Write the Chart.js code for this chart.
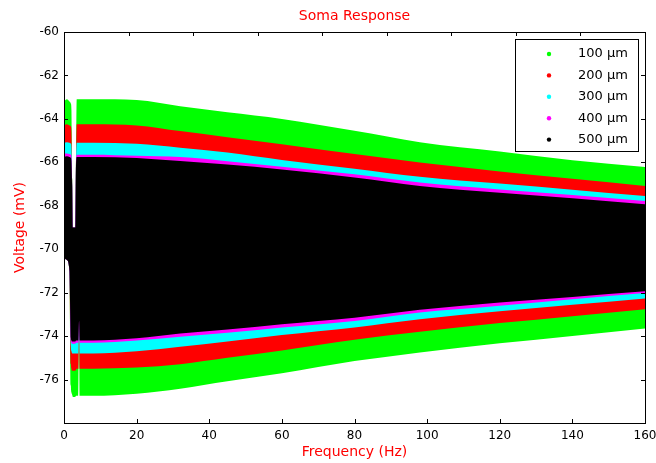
<!DOCTYPE html>
<html>
<head>
<meta charset="utf-8">
<title>Soma Response</title>
<script src="https://cdn.jsdelivr.net/npm/chart.js@4.4.0/dist/chart.umd.min.js"></script>
<style>
  html, body { margin: 0; padding: 0; background: #fff; }
  #wrap { width: 656px; height: 463px; }
</style>
</head>
<body>
<div id="wrap"><canvas id="soma" width="656" height="463"></canvas></div>
<script>
// Envelope of each response band (max / min voltage, mV)
const freqs = [0, 0.8, 1.5, 1.9, 2.05, 2.25, 2.45, 3.1, 3.3, 3.5, 4.0, 4.15, 4.3, 8, 20, 32, 45, 60, 80, 98, 120, 140, 160];

const upper100 = [-63.2, -63.1, -63.2, -63.3, -63.6, -66.8, -69.0, -69.0, -65.8, -63.1, -63.1, -63.1, -63.1, -63.1, -63.13, -63.42, -63.7, -64.0, -64.55, -65.07, -65.5, -65.9, -66.22];
const lower100 = [-70.4, -70.5, -71.0, -76.3, -76.6, -76.7, -76.8, -76.8, -76.75, -76.75, -76.75, -73.3, -76.75, -76.75, -76.65, -76.42, -76.08, -75.71, -75.15, -74.75, -74.33, -73.99, -73.65];

const upper200 = [-64.3, -64.25, -64.3, -64.35, -64.6, -66.8, -69.0, -69.0, -65.9, -64.25, -64.25, -64.25, -64.25, -64.25, -64.3, -64.56, -64.84, -65.17, -65.62, -66.01, -66.42, -66.76, -67.09];
const lower200 = [-70.4, -70.5, -71.0, -75.3, -75.5, -75.6, -75.6, -75.6, -75.55, -75.5, -75.5, -73.3, -75.5, -75.5, -75.45, -75.29, -75.0, -74.66, -74.17, -73.8, -73.4, -73.08, -72.76];

const upper300 = [-65.1, -65.07, -65.1, -65.15, -65.3, -66.9, -69.0, -69.0, -66.0, -65.1, -65.1, -65.1, -65.1, -65.1, -65.15, -65.33, -65.55, -65.89, -66.29, -66.66, -66.98, -67.26, -67.55];
const lower300 = [-70.4, -70.5, -71.0, -74.5, -74.7, -74.8, -74.8, -74.8, -74.8, -74.8, -74.8, -73.3, -74.8, -74.8, -74.7, -74.49, -74.25, -73.95, -73.6, -73.22, -72.86, -72.56, -72.27];

const upper400 = [-65.6, -65.59, -65.62, -65.65, -65.8, -67.0, -69.0, -69.0, -66.1, -65.65, -65.65, -65.65, -65.65, -65.65, -65.7, -65.76, -65.95, -66.2, -66.55, -66.93, -67.25, -67.5, -67.78];
const lower400 = [-70.4, -70.5, -71.0, -74.2, -74.3, -74.35, -74.35, -74.35, -74.3, -74.3, -74.3, -73.3, -74.3, -74.3, -74.2, -74.03, -73.85, -73.6, -73.3, -72.91, -72.6, -72.3, -72.02];

const upper500 = [-65.75, -65.72, -65.75, -65.8, -65.95, -67.1, -69.0, -69.0, -66.2, -65.75, -65.75, -65.75, -65.75, -65.75, -65.8, -65.94, -66.1, -66.33, -66.7, -67.09, -67.4, -67.65, -67.93];
const lower500 = [-70.4, -70.5, -71.0, -74.1, -74.2, -74.25, -74.25, -74.25, -74.2, -74.2, -74.2, -73.3, -74.2, -74.2, -74.1, -73.88, -73.7, -73.45, -73.15, -72.79, -72.45, -72.2, -71.94];

const seriesNames = ['100 \u00b5m', '200 \u00b5m', '300 \u00b5m', '400 \u00b5m', '500 \u00b5m'];
const seriesColors = ['#00ff00', '#ff0000', '#00ffff', '#ff00ff', '#000000'];
const uppers = [upper100, upper200, upper300, upper400, upper500];
const lowers = [lower100, lower200, lower300, lower400, lower500];

// Axis ticks
const xTicks = [0, 20, 40, 60, 80, 100, 120, 140, 160];
const yTicks = [-60, -62, -64, -66, -68, -70, -72, -74, -76, -78];
const yTickLabels = [-60, -62, -64, -66, -68, -70, -72, -74, -76];
const topTickDivisions = 9; // the top edge has its own 9 evenly spaced ticks

const FONT = 'DejaVu Sans';
const TICK = 4;

const toPoints = (ys) => ys.map((v, i) => ({ x: freqs[i], y: v }));

// 500 um goes first so it is drawn last (on top); each band = upper line filled down to its lower line
const datasets = [];
for (let s = seriesNames.length - 1; s >= 0; s--) {
  datasets.push({
    label: seriesNames[s],
    data: toPoints(uppers[s]),
    borderWidth: 0,
    backgroundColor: seriesColors[s],
    pointRadius: 0,
    cubicInterpolationMode: 'monotone',
    fill: '+1'
  });
  datasets.push({
    label: seriesNames[s] + ' min',
    data: toPoints(lowers[s]),
    borderWidth: 0,
    backgroundColor: seriesColors[s],
    pointRadius: 0,
    cubicInterpolationMode: 'monotone',
    fill: false
  });
}

// box, inward ticks and the in-plot legend
const framePlugin = {
  id: 'frame',
  afterDraw(chart) {
    const { ctx, chartArea: a, scales: { x, y } } = chart;
    ctx.save();
    ctx.strokeStyle = '#000';
    ctx.lineWidth = 1;
    ctx.strokeRect(Math.round(a.left) + 0.5, Math.round(a.top) + 0.5,
      Math.round(a.right - a.left), Math.round(a.bottom - a.top));

    ctx.beginPath();
    xTicks.forEach(v => {
      const px = Math.round(x.getPixelForValue(v)) + 0.5;
      ctx.moveTo(px, a.bottom);
      ctx.lineTo(px, a.bottom - TICK);
    });
    for (let k = 1; k < topTickDivisions; k++) {
      const px = Math.round(x.getPixelForValue(x.min + (x.max - x.min) * k / topTickDivisions)) + 0.5;
      ctx.moveTo(px, a.top);
      ctx.lineTo(px, a.top + TICK);
    }
    yTicks.forEach(v => {
      const py = Math.round(y.getPixelForValue(v)) + 0.5;
      ctx.moveTo(a.left, py);
      ctx.lineTo(a.left + TICK, py);
      ctx.moveTo(a.right, py);
      ctx.lineTo(a.right - TICK, py);
    });
    ctx.stroke();

    // legend box
    const lx = 515, ly = 39, lw = 123, lh = 112;
    ctx.fillStyle = '#fff';
    ctx.fillRect(lx, ly, lw, lh);
    ctx.strokeRect(lx + 0.5, ly + 0.5, lw, lh);
    ctx.font = '13px "' + FONT + '"';
    ctx.textBaseline = 'middle';
    ctx.textAlign = 'left';
    seriesNames.forEach((name, i) => {
      const ry = ly + 15 + i * 21.4;
      ctx.fillStyle = seriesColors[i];
      ctx.beginPath();
      ctx.arc(lx + 34, ry, 2.2, 0, Math.PI * 2);
      ctx.fill();
      ctx.fillStyle = '#000';
      ctx.fillText(name, lx + 63, ry);
    });
    ctx.restore();
  }
};

Chart.defaults.font.family = FONT;

new Chart(document.getElementById('soma').getContext('2d'), {
  type: 'line',
  data: { datasets },
  options: {
    responsive: false,
    animation: false,
    devicePixelRatio: 1,
    layout: { padding: { left: 0, right: 11, top: 0, bottom: 0 } },
    plugins: {
      legend: { display: false },
      tooltip: { enabled: false },
      title: {
        display: true,
        text: 'Soma Response',
        color: '#ff0000',
        fullSize: false,
        font: { size: 14, weight: 'normal' },
        padding: { top: 8, bottom: 7.2 }
      }
    },
    scales: {
      x: {
        type: 'linear',
        min: 0,
        max: 160,
        grid: { display: false, drawTicks: false },
        border: { display: false },
        ticks: {
          stepSize: 20,
          color: '#000',
          font: { size: 12 },
          padding: 6,
          maxRotation: 0,
          autoSkip: false
        },
        title: {
          display: true,
          text: 'Frequency (Hz)',
          color: '#ff0000',
          font: { size: 14 },
          padding: { top: 0, bottom: 2 }
        },
        afterFit: (s) => { s.height = 40; s.paddingLeft = 0; s.paddingRight = 0; }
      },
      y: {
        type: 'linear',
        min: -78,
        max: -60,
        grid: { display: false, drawTicks: false },
        border: { display: false },
        ticks: {
          stepSize: 2,
          color: '#000',
          font: { size: 12 },
          padding: 5,
          callback: (v) => yTickLabels.includes(v) ? String(v) : ''
        },
        title: {
          display: true,
          text: 'Voltage (mV)',
          color: '#ff0000',
          font: { size: 14 },
          padding: { top: 12, bottom: 0 }
        },
        afterFit: (s) => { s.width = 64; s.paddingTop = 0; s.paddingBottom = 0; }
      }
    }
  },
  plugins: [framePlugin]
});
</script>
</body>
</html>
